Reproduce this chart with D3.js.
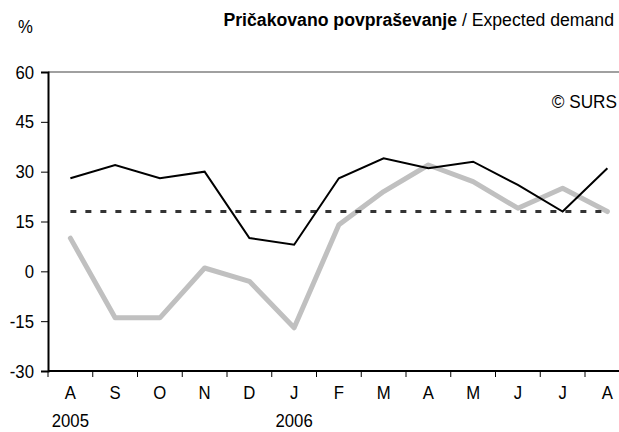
<!DOCTYPE html>
<html>
<head>
<meta charset="utf-8">
<script src="https://cdn.jsdelivr.net/npm/d3@7"></script>
<style>
  body { margin: 0; background: #fff; }
  svg { display: block; }
  text { font-family: "Liberation Sans", Arial, sans-serif; fill: #000; }
</style>
</head>
<body>
<div id="grafico"></div>
<script>
// months Aug 2005 - Aug 2006
var meses = ['A', 'S', 'O', 'N', 'D', 'J', 'F', 'M', 'A', 'M', 'J', 'J', 'A'];
var anos = { 0: '2005', 5: '2006' };
var serieCrna = [28, 32, 28, 30, 10, 8, 28, 34, 31, 33, 26, 18, 31];
var serieSiva = [10, -14, -14, 1, -3, -17, 14, 24, 32, 27, 19, 25, 18];
var povprecje = 18;
var yTicks = [-30, -15, 0, 15, 30, 45, 60];

var width = 619, height = 432;
var margin = { top: 72, left: 48, bottom: 61 };
var plotRight = 48 + 13 * 44.75;
var ozko = 0.93; // narrow-looking text

var svg = d3.select('#grafico').append('svg')
    .attr('width', width).attr('height', height);

var x = d3.scaleBand().domain(d3.range(meses.length)).range([margin.left, plotRight]);
var y = d3.scaleLinear().domain([-30, 60]).range([height - margin.bottom, margin.top]);

function cx(i) { return x(i) + x.bandwidth() / 2; }

// text helper, horizontally squeezed
function napis(parent, tx, ty, anchor, size, txt) {
    return parent.append('text')
        .attr('transform', 'translate(' + tx + ',' + ty + ') scale(' + ozko + ',1)')
        .attr('text-anchor', anchor)
        .style('font-size', size + 'px')
        .text(txt);
}

// top border line at 60
svg.append('line')
    .attr('x1', margin.left).attr('x2', plotRight)
    .attr('y1', y(60)).attr('y2', y(60))
    .attr('stroke', '#808080').attr('stroke-width', 1.5);

// y axis
var yAxis = svg.append('g')
    .attr('transform', 'translate(' + margin.left + ',0)')
    .call(d3.axisLeft(y).tickValues(yTicks).tickSize(7).tickFormat(''));
yAxis.select('.domain').attr('stroke', '#000').attr('stroke-width', 2);
yAxis.selectAll('.tick line').attr('stroke', '#000').attr('stroke-width', 1);
yTicks.forEach(function(t) {
    napis(svg, 34, y(t) + 6.5, 'end', 18, t);
});

// x axis with ticks at band boundaries
var xAxis = svg.append('g')
    .attr('transform', 'translate(0,' + y(-30) + ')');
xAxis.append('line')
    .attr('x1', margin.left).attr('x2', plotRight)
    .attr('stroke', '#000').attr('stroke-width', 2);
xAxis.selectAll('.tk').data(d3.range(meses.length)).enter().append('line')
    .attr('x1', function(d) { return x(d); }).attr('x2', function(d) { return x(d); })
    .attr('y1', 0).attr('y2', 6)
    .attr('stroke', '#000').attr('stroke-width', 1);
meses.forEach(function(m, i) {
    napis(xAxis, cx(i), 28, 'middle', 18, m);
});
Object.keys(anos).forEach(function(k) {
    napis(xAxis, cx(+k), 56, 'middle', 18, anos[k]);
});

var linija = d3.line()
    .x(function(d, i) { return cx(i); })
    .y(function(d) { return y(d); });

// gray series
svg.append('path').datum(serieSiva)
    .attr('d', linija)
    .attr('fill', 'none').attr('stroke', '#c0c0c0').attr('stroke-width', 5)
    .attr('stroke-linejoin', 'round').attr('stroke-linecap', 'round');

// dashed average
svg.append('line')
    .attr('x1', cx(0)).attr('x2', cx(meses.length - 1))
    .attr('y1', y(povprecje)).attr('y2', y(povprecje))
    .attr('stroke', '#333').attr('stroke-width', 3)
    .attr('stroke-dasharray', '6,9');

// black series
svg.append('path').datum(serieCrna)
    .attr('d', linija)
    .attr('fill', 'none').attr('stroke', '#000').attr('stroke-width', 2)
    .attr('stroke-linejoin', 'miter');

// titles
napis(svg, 18, 33, 'start', 18, '%');
var naslov = svg.append('text')
    .attr('transform', 'translate(614,26) scale(' + ozko + ',1)')
    .attr('text-anchor', 'end').style('font-size', '19px');
naslov.append('tspan').style('font-weight', 'bold').text('Pričakovano povpraševanje');
naslov.append('tspan').text(' / Expected demand');

napis(svg, 617, 108, 'end', 18.5, '© SURS');
</script>
</body>
</html>
